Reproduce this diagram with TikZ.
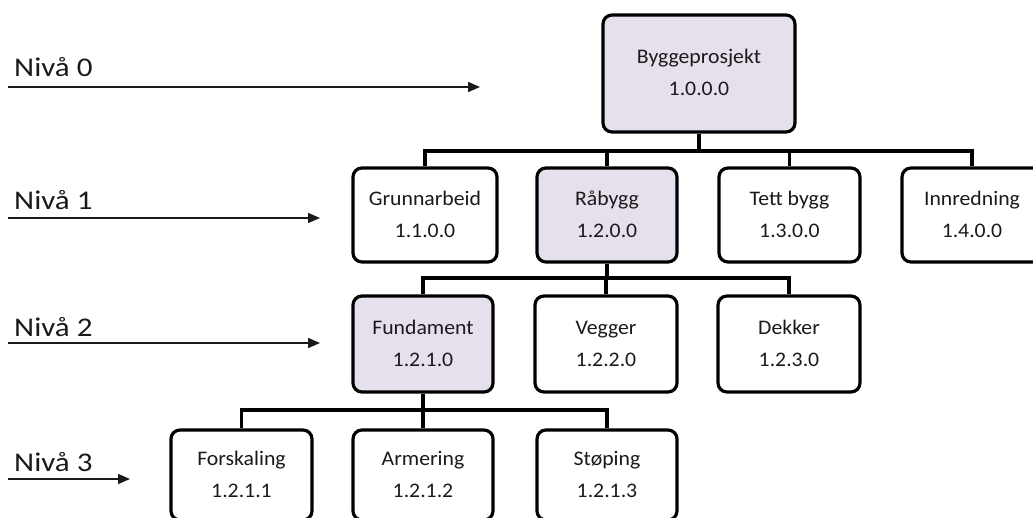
\documentclass[tikz,border=0pt]{standalone}
\usepackage{fontspec}
\setmainfont{Carlito}
\newfontfamily\boxfont{Carlito}[FakeStretch=1.05]
\newfontfamily\nivfont{Carlito}[FakeStretch=1.15]
\usetikzlibrary{arrows.meta}
\definecolor{lav}{HTML}{E5E0EC}
\definecolor{ink}{HTML}{1A1A1A}
\newcommand\wbsbox[8]{% name, cx, cy, w, h, style, line1, line2
  \node[wbs,#6,minimum width=#4,minimum height=#5] (#1) at (#2,#3) {};
  \node[txt] (#1a) at (#2,#3-9.5) {#7};
  \node[txt] (#1b) at (#2,#3+22.5) {#8};
}
\begin{document}
\begin{tikzpicture}[x=1pt,y=-1pt,
  wbs/.style={draw=black, line width=3.2pt, rounded corners=9pt, inner sep=0pt},
  hl/.style={fill=lav},
  plain/.style={fill=white},
  txt/.style={font=\boxfont\fontsize{20.7}{24}\selectfont, text=ink, anchor=base, inner sep=0pt},
  conn/.style={line width=3.2pt, line join=miter, draw=black},
  niv/.style={font=\nivfont\fontsize{27}{32}\selectfont, anchor=base west, inner sep=0pt, text=ink},
  nivarrow/.style={line width=1.6pt, draw=ink, -{Triangle[length=12pt,width=10pt]}}
]
\useasboundingbox (0,0) rectangle (1033,518);
\clip (0,0) rectangle (1033,518);

% level labels
\node[niv] (n0) at (14,77) {Nivå 0};
\node[niv] (n1) at (14,210) {Nivå 1};
\node[niv] (n2) at (14,337) {Nivå 2};
\node[niv] (n3) at (14,471) {Nivå 3};
\coordinate (a0s) at (8,87);   \coordinate (a0e) at (480,87);
\coordinate (a1s) at (8,218);  \coordinate (a1e) at (320,218);
\coordinate (a2s) at (8,343);  \coordinate (a2e) at (320,343);
\coordinate (a3s) at (8,479);  \coordinate (a3e) at (130,479);
\draw[nivarrow] (a0s) -- (a0e);
\draw[nivarrow] (a1s) -- (a1e);
\draw[nivarrow] (a2s) -- (a2e);
\draw[nivarrow] (a3s) -- (a3e);

% bars
\coordinate (bar1) at (0,151);
\coordinate (bar2) at (0,278);
\coordinate (bar3) at (0,410);

% boxes
\wbsbox{top}{699}{73.5}{192pt}{117pt}{hl}{Byggeprosjekt}{1.0.0.0}
\wbsbox{gru}{425}{215}{144pt}{94pt}{plain}{Grunnarbeid}{1.1.0.0}
\wbsbox{rab}{607}{215}{140pt}{94pt}{hl}{Råbygg}{1.2.0.0}
\wbsbox{tet}{789.5}{215}{141pt}{94pt}{plain}{Tett bygg}{1.3.0.0}
\wbsbox{inn}{972}{215}{140pt}{94pt}{plain}{Innredning}{1.4.0.0}
\wbsbox{fun}{423}{344}{140pt}{96pt}{hl}{Fundament}{1.2.1.0}
\wbsbox{veg}{606}{344}{142pt}{96pt}{plain}{Vegger}{1.2.2.0}
\wbsbox{dek}{789}{344}{142pt}{96pt}{plain}{Dekker}{1.2.3.0}
\wbsbox{for}{241.5}{475}{141pt}{90pt}{plain}{Forskaling}{1.2.1.1}
\wbsbox{arm}{423}{475}{140pt}{90pt}{plain}{Armering}{1.2.1.2}
\wbsbox{sto}{607}{475}{140pt}{90pt}{plain}{Støping}{1.2.1.3}

% connectors level 0 -> 1
\draw[conn] (top.south) -- (top.south |- bar1);
\draw[conn] (gru.north) -- (gru.north |- bar1) -- (inn.north |- bar1) -- (inn.north);
\draw[conn] (rab.north) -- (rab.north |- bar1);
\draw[conn] (tet.north) -- (tet.north |- bar1);
% level 1 -> 2
\draw[conn] (rab.south) -- (rab.south |- bar2);
\draw[conn] (fun.north) -- (fun.north |- bar2) -- (dek.north |- bar2) -- (dek.north);
\draw[conn] (veg.north) -- (veg.north |- bar2);
% level 2 -> 3
\draw[conn] (fun.south) -- (fun.south |- bar3);
\draw[conn] (for.north) -- (for.north |- bar3) -- (sto.north |- bar3) -- (sto.north);
\draw[conn] (arm.north) -- (arm.north |- bar3);
\end{tikzpicture}
\end{document}
